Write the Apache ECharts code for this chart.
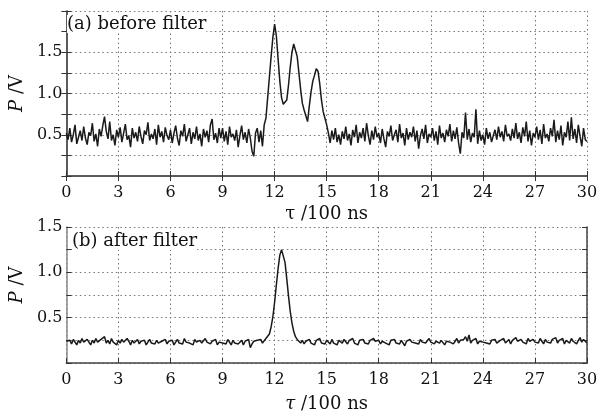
<!DOCTYPE html>
<html><head><meta charset="utf-8">
<script src="https://cdn.jsdelivr.net/npm/echarts@6/dist/echarts.min.js"></script>
<style>html,body{margin:0;padding:0;background:#fff}#c{width:609px;height:414px}</style>
</head><body><div id="c"></div>
<script>
// sampling step of the time axis (units of 100 ns)
const tStep = 0.1;
const xTicks = [0,3,6,9,12,15,18,21,24,27,30];
const yLabelsA = ['0.5','1.0','1.5'];
const yLabelsB = ['0.5','1.0','1.5'];
const labelA = '(a) before filter';
const labelB = '(b) after filter';

// (a) before filter, P / V, sampled every 0.1 from 0 to 30
const beforeFilter = [
0.52,0.44,0.58,0.41,0.50,0.62,0.39,0.47,0.55,0.43,
0.60,0.46,0.38,0.53,0.49,0.64,0.42,0.51,0.36,0.57,
0.48,0.61,0.72,0.54,0.45,0.66,0.43,0.50,0.37,0.56,
0.47,0.59,0.41,0.52,0.63,0.44,0.49,0.35,0.58,0.46,
0.53,0.42,0.60,0.48,0.39,0.55,0.50,0.65,0.43,0.51,
0.45,0.57,0.38,0.62,0.47,0.54,0.41,0.59,0.49,0.44,
0.56,0.40,0.52,0.61,0.46,0.37,0.55,0.48,0.63,0.42,
0.50,0.58,0.39,0.53,0.45,0.60,0.43,0.51,0.36,0.57,
0.47,0.55,0.41,0.62,0.69,0.44,0.52,0.40,0.58,0.46,
0.58,0.42,0.54,0.38,0.60,0.47,0.51,0.43,0.56,0.35,
0.49,0.61,0.44,0.53,0.40,0.57,0.46,0.30,0.24,0.52,
0.58,0.41,0.55,0.36,0.62,0.70,0.95,1.20,1.45,1.68,
1.84,1.70,1.42,1.15,0.95,0.87,0.85,0.92,1.10,1.32,
1.50,1.60,1.58,1.45,1.25,1.05,0.88,0.80,0.78,0.66,
0.85,1.02,1.15,1.22,1.30,1.27,1.12,0.92,0.78,0.70,
0.62,0.52,0.40,0.55,0.44,0.58,0.41,0.50,0.38,0.54,
0.45,0.60,0.43,0.51,0.37,0.56,0.47,0.62,0.40,0.53,
0.46,0.58,0.42,0.64,0.49,0.38,0.55,0.44,0.60,0.47,
0.52,0.40,0.57,0.45,0.35,0.54,0.48,0.61,0.43,0.50,
0.56,0.41,0.63,0.46,0.52,0.37,0.58,0.44,0.53,0.47,
0.60,0.42,0.55,0.33,0.49,0.57,0.45,0.62,0.40,0.51,
0.47,0.58,0.43,0.54,0.38,0.61,0.46,0.52,0.41,0.56,
0.48,0.63,0.42,0.55,0.45,0.59,0.40,0.27,0.53,0.46,
0.77,0.44,0.57,0.41,0.52,0.47,0.81,0.39,0.55,0.43,
0.50,0.38,0.58,0.45,0.53,0.41,0.49,0.56,0.44,0.60,
0.47,0.54,0.42,0.62,0.48,0.51,0.43,0.57,0.46,0.64,
0.45,0.53,0.40,0.59,0.48,0.66,0.42,0.55,0.37,0.52,
0.47,0.60,0.44,0.56,0.39,0.63,0.46,0.51,0.42,0.58,
0.48,0.68,0.41,0.55,0.44,0.61,0.37,0.53,0.47,0.66,
0.43,0.71,0.45,0.57,0.40,0.62,0.48,0.36,0.58,0.44,
0.42];

// (b) after filter, P / V, sampled every 0.1 from 0 to 30
const afterFilter = [
0.24,0.22,0.25,0.21,0.26,0.23,0.20,0.25,0.22,0.27,
0.23,0.21,0.26,0.24,0.20,0.25,0.22,0.27,0.23,0.21,
0.26,0.24,0.29,0.22,0.25,0.21,0.27,0.23,0.24,0.20,
0.25,0.22,0.26,0.23,0.21,0.27,0.24,0.20,0.25,0.22,
0.23,0.26,0.21,0.24,0.22,0.25,0.20,0.23,0.26,0.22,
0.24,0.21,0.25,0.22,0.20,0.24,0.23,0.26,0.21,0.24,
0.22,0.25,0.20,0.23,0.26,0.22,0.24,0.21,0.27,0.23,
0.25,0.22,0.24,0.20,0.26,0.23,0.21,0.25,0.22,0.24,
0.27,0.23,0.25,0.21,0.24,0.22,0.26,0.20,0.23,0.25,
0.22,0.24,0.21,0.26,0.23,0.20,0.25,0.22,0.24,0.21,
0.23,0.25,0.20,0.24,0.22,0.26,0.17,0.21,0.24,0.22,
0.25,0.23,0.26,0.22,0.24,0.27,0.28,0.32,0.40,0.51,
0.67,0.86,1.04,1.19,1.25,1.23,1.11,0.93,0.74,0.57,
0.44,0.35,0.29,0.26,0.24,0.22,0.25,0.21,0.24,0.23,
0.26,0.22,0.24,0.20,0.25,0.23,0.27,0.22,0.24,0.21,
0.25,0.23,0.21,0.26,0.22,0.24,0.20,0.25,0.23,0.22,
0.26,0.24,0.21,0.25,0.23,0.27,0.22,0.24,0.20,0.25,
0.23,0.26,0.22,0.24,0.21,0.25,0.23,0.27,0.24,0.22,
0.25,0.21,0.24,0.26,0.22,0.23,0.20,0.25,0.23,0.26,
0.22,0.24,0.21,0.25,0.23,0.19,0.24,0.22,0.26,0.23,
0.25,0.22,0.24,0.21,0.26,0.23,0.25,0.22,0.24,0.27,
0.23,0.25,0.21,0.24,0.26,0.22,0.25,0.23,0.20,0.24,
0.26,0.23,0.25,0.21,0.24,0.27,0.22,0.25,0.23,0.26,
0.29,0.24,0.31,0.22,0.25,0.23,0.27,0.21,0.24,0.26,
0.23,0.25,0.22,0.24,0.21,0.25,0.23,0.26,0.22,0.24,
0.25,0.23,0.27,0.22,0.24,0.26,0.21,0.25,0.23,0.28,
0.24,0.22,0.26,0.23,0.25,0.21,0.27,0.24,0.22,0.26,
0.23,0.25,0.22,0.27,0.24,0.21,0.26,0.23,0.25,0.22,
0.26,0.24,0.28,0.22,0.25,0.23,0.27,0.21,0.25,0.24,
0.22,0.27,0.24,0.26,0.21,0.25,0.28,0.23,0.26,0.24,
0.22];

const FONT = 'DejaVu Serif';
const toPairs = vals => vals.map((v, i) => [Math.round(i * 10 * tStep) / 10, v]);
const yFmt = list => v => { const s = v.toFixed(1); return (Math.abs(v * 2 - Math.round(v * 2)) < 1e-9 && list.includes(s)) ? s : ''; };

const dotted = { show: true, lineStyle: { type: [1.5, 3], color: '#777', width: 1 } };
const tickIn = { show: true, inside: true, length: 5, lineStyle: { color: '#333' } };
const lab = { fontFamily: FONT, fontSize: 16, color: '#111' };
const nameStyle = { fontFamily: FONT, fontSize: 18, color: '#111', rich: { i: { fontFamily: FONT, fontSize: 18, fontStyle: 'italic', color: '#111' } } };

function xMain(g, name, gap) {
  return {
    gridIndex: g, type: 'value', min: xTicks[0], max: xTicks[xTicks.length - 1], interval: 3,
    axisLine: { show: true, lineStyle: { color: '#444', width: 1.5 } },
    axisTick: tickIn, splitLine: dotted,
    axisLabel: Object.assign({ margin: 9, formatter: v => xTicks.includes(v) ? String(v) : '' }, lab),
    name: name, nameLocation: 'middle', nameGap: gap, nameTextStyle: nameStyle
  };
}

const option = {
  backgroundColor: '#fff',
  animation: false,
  grid: [
    { left: 63, right: 22, top: 11, height: 165 },
    { left: 63, right: 22, top: 227, height: 141 }
  ],
  xAxis: [
    xMain(0, 'τ /100 ns', 29),
    { gridIndex: 0, type: 'value', min: 0, max: 30, interval: 3, position: 'top',
      axisLine: { show: true, lineStyle: { color: '#555', width: 1.5 } }, axisTick: tickIn,
      axisLabel: { show: false }, splitLine: { show: false } },
    xMain(1, '{i|τ} /100 ns', 32)
  ],
  yAxis: [
    { gridIndex: 0, type: 'value', min: 0, max: 2, interval: 0.25,
      axisLine: { show: true, lineStyle: { color: '#888', width: 1.5 } }, axisTick: tickIn,
      splitLine: dotted, axisLabel: Object.assign({ margin: 4, formatter: yFmt(yLabelsA) }, lab),
      name: '{i|P} /V', nameLocation: 'middle', nameGap: 27, nameTextStyle: nameStyle },
    { gridIndex: 0, type: 'value', min: 0, max: 2, interval: 0.25, position: 'right',
      axisLine: { show: true, lineStyle: { color: '#444', width: 1.5 } }, axisTick: tickIn,
      axisLabel: { show: false }, splitLine: { show: false } },
    { gridIndex: 1, type: 'value', min: 0, max: 1.5, interval: 0.25,
      axisLine: { show: true, lineStyle: { color: '#888', width: 1.5 } }, axisTick: tickIn,
      splitLine: dotted, axisLabel: Object.assign({ margin: 4, formatter: yFmt(yLabelsB) }, lab),
      name: '{i|P} /V', nameLocation: 'middle', nameGap: 27,
      nameTextStyle: Object.assign({ padding: [0, 0, 0, 20] }, nameStyle) },
    { gridIndex: 1, type: 'value', min: 0, max: 1.5, interval: 0.25, position: 'right',
      axisLine: { show: true, lineStyle: { color: '#444', width: 1.5 } }, axisTick: tickIn,
      axisLabel: { show: false }, splitLine: { show: false } }
  ],
  series: [
    { type: 'line', xAxisIndex: 0, yAxisIndex: 0, data: toPairs(beforeFilter), showSymbol: false,
      lineStyle: { color: '#1a1a1a', width: 1.5 }, z: 5 },
    { type: 'line', xAxisIndex: 2, yAxisIndex: 2, data: toPairs(afterFilter), showSymbol: false,
      lineStyle: { color: '#1a1a1a', width: 1.5 }, z: 5 }
  ],
  graphic: [
    { type: 'text', left: 67, top: 15, z: 10, style: { text: labelA, font: '18px "DejaVu Serif"', fill: '#111', backgroundColor: '#fff' } },
    { type: 'text', left: 72, top: 232, z: 10, style: { text: labelB, font: '18px "DejaVu Serif"', fill: '#111', backgroundColor: '#fff' } }
  ]
};
const chart = echarts.init(document.getElementById('c'), null, { renderer: 'canvas' });
chart.setOption(option);
</script></body></html>
